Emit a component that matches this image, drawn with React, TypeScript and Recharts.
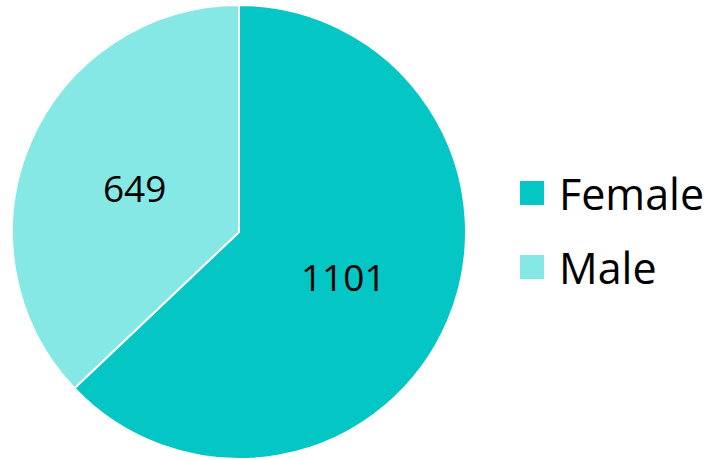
import { Cell, Legend, Pie, PieChart } from 'recharts';

const genders = ['Female', 'Male'];
const counts = [1101, 649];
const colors = ['#04C6C4', '#86E8E4'];

const data = genders.map((name, i) => ({ name, value: counts[i] }));

const FONT = '"Open Sans", sans-serif';
const RAD = Math.PI / 180;

const renderLabel = (props: any) => {
  const { cx, cy, midAngle, outerRadius, value } = props;
  const r = outerRadius * 0.5;
  const x = cx + r * Math.cos(-midAngle * RAD);
  const y = cy + r * Math.sin(-midAngle * RAD);
  return (
    <text x={x} y={y} textAnchor="middle" dominantBaseline="central" fill="#000" fontSize={37} fontFamily={FONT}>
      {value}
    </text>
  );
};

const renderLegend = () => (
  <div style={{ fontFamily: FONT }}>
    {data.map((d, i) => (
      <div key={d.name} style={{ display: 'flex', alignItems: 'center', height: 74 }}>
        <span style={{ width: 24, height: 24, background: colors[i], marginRight: 15, display: 'inline-block' }} />
        <span style={{ fontSize: 43, color: '#000' }}>{d.name}</span>
      </div>
    ))}
  </div>
);

const App = () => (
  <div style={{ position: 'absolute', left: 0, top: 0, background: '#fff' }}>
    <PieChart width={725} height={460} margin={{ top: 0, right: 0, bottom: 0, left: 0 }}>
      <Pie
        data={data}
        dataKey="value"
        nameKey="name"
        cx={239}
        cy={232}
        outerRadius={227}
        startAngle={90}
        endAngle={-270}
        stroke="#fff"
        strokeWidth={2}
        label={renderLabel}
        labelLine={false}
        isAnimationActive={false}
      >
        {data.map((d, i) => (
          <Cell key={d.name} fill={colors[i]} />
        ))}
      </Pie>
      <Legend content={renderLegend} wrapperStyle={{ left: 520, top: 156, width: 205 }} />
    </PieChart>
  </div>
);

export default App;
